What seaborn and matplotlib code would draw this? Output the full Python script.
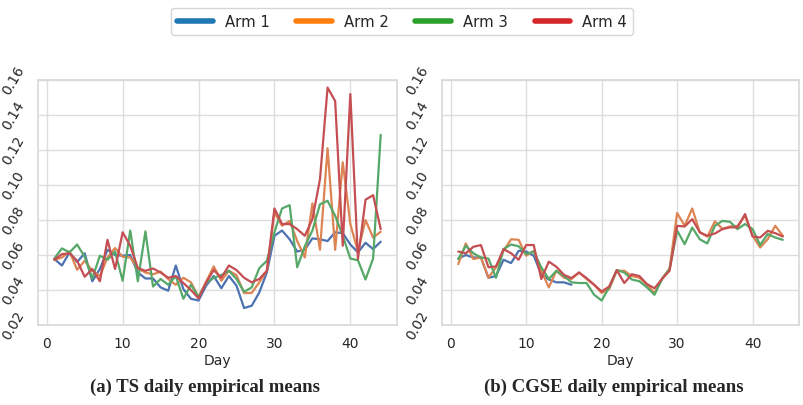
import numpy as np
import pandas as pd
import matplotlib
matplotlib.use("Agg")
import matplotlib.pyplot as plt
import seaborn as sns
from matplotlib.lines import Line2D

# Daily empirical means
days = list(range(1, 45))
arms = ["Arm 1", "Arm 2", "Arm 3", "Arm 4"]

ts_arm1 = [0.0577, 0.054, 0.0615, 0.056, 0.061, 0.045, 0.052, 0.063, 0.060, 0.0596,
           0.060, 0.050, 0.0466, 0.0466, 0.0415, 0.0396, 0.054, 0.0405, 0.035, 0.034,
           0.0425, 0.048, 0.041, 0.048, 0.0425, 0.0297, 0.031, 0.0386, 0.050, 0.071,
           0.074, 0.069, 0.062, 0.063, 0.0695, 0.069, 0.068, 0.073, 0.0725, 0.066,
           0.0615, 0.067, 0.0634, 0.0676]
ts_arm2 = [0.0573, 0.0586, 0.062, 0.0516, 0.0567, 0.051, 0.048, 0.0586, 0.064, 0.059,
           0.0586, 0.0523, 0.050, 0.049, 0.0505, 0.0463, 0.043, 0.047, 0.0444, 0.036,
           0.0447, 0.0535, 0.0453, 0.051, 0.0485, 0.0383, 0.0383, 0.0444, 0.051, 0.0843,
           0.0767, 0.0795, 0.068, 0.0586, 0.0895, 0.063, 0.121, 0.063, 0.113, 0.0777,
           0.062, 0.080, 0.070, 0.0733]
ts_arm3 = [0.058, 0.0638, 0.0615, 0.066, 0.059, 0.0466, 0.0596, 0.0573, 0.062, 0.0453,
           0.074, 0.045, 0.0735, 0.042, 0.0463, 0.043, 0.048, 0.035, 0.043, 0.036,
           0.044, 0.047, 0.0485, 0.051, 0.0463, 0.039, 0.0415, 0.0525, 0.0567, 0.073,
           0.0866, 0.0885, 0.053, 0.065, 0.074, 0.089, 0.091, 0.0824, 0.071, 0.058,
           0.057, 0.046, 0.058, 0.1287]
ts_arm4 = [0.0573, 0.0605, 0.061, 0.0567, 0.0476, 0.052, 0.045, 0.0687, 0.052, 0.073,
           0.0653, 0.0525, 0.051, 0.0523, 0.050, 0.047, 0.048, 0.044, 0.040, 0.0352,
           0.0444, 0.0514, 0.047, 0.054, 0.0514, 0.047, 0.0444, 0.0463, 0.051, 0.0866,
           0.0777, 0.0777, 0.0748, 0.071, 0.0805, 0.1033, 0.1557, 0.148, 0.0653, 0.152,
           0.0577, 0.0916, 0.0942, 0.0748]

# CGSE: arm 1 is only observed for the first 16 days
cgse_arm1 = [0.058, 0.060, 0.0586, 0.0586, 0.047, 0.048, 0.0573, 0.0554, 0.0624, 0.062,
             0.0596, 0.049, 0.046, 0.0444, 0.0444, 0.043]
cgse_arm2 = [0.0548, 0.0666, 0.0577, 0.0586, 0.047, 0.053, 0.0624, 0.069, 0.0687, 0.0596,
             0.0624, 0.051, 0.0415, 0.051, 0.047, 0.0463, 0.050, 0.0463, 0.043, 0.0383,
             0.0405, 0.051, 0.051, 0.048, 0.047, 0.043, 0.0383, 0.0466, 0.0523, 0.084,
             0.0767, 0.0866, 0.073, 0.0705, 0.0792, 0.075, 0.0763, 0.0767, 0.0824, 0.071,
             0.0643, 0.069, 0.0767, 0.071]
cgse_arm3 = [0.0577, 0.0653, 0.061, 0.0586, 0.058, 0.047, 0.0634, 0.066, 0.065, 0.0605,
             0.062, 0.053, 0.0463, 0.051, 0.048, 0.0444, 0.044, 0.044, 0.0373, 0.034,
             0.0415, 0.0514, 0.050, 0.046, 0.045, 0.0415, 0.0373, 0.0463, 0.052, 0.074,
             0.0662, 0.0757, 0.069, 0.0666, 0.0767, 0.0795, 0.079, 0.0748, 0.0777, 0.0748,
             0.0657, 0.072, 0.070, 0.0687]
cgse_arm4 = [0.062, 0.061, 0.0647, 0.0657, 0.053, 0.0535, 0.0634, 0.061, 0.0573, 0.0657,
             0.0657, 0.0463, 0.0562, 0.0533, 0.0487, 0.0468, 0.050, 0.0468, 0.043, 0.0392,
             0.042, 0.0514, 0.044, 0.049, 0.048, 0.0434, 0.041, 0.0463, 0.051, 0.0767,
             0.0763, 0.0805, 0.073, 0.071, 0.0723, 0.0748, 0.0758, 0.0758, 0.0834, 0.0706,
             0.070, 0.0738, 0.0725, 0.0706]

line_colors = sns.color_palette("deep", 4)
legend_colors = ["#1f77b4", "#ff7f0e", "#2ca02c", "#d62728"]


def to_long(series_list):
    rows = []
    for arm, vals in zip(arms, series_list):
        for d, v in zip(days, vals):
            rows.append({"Day": d, "mean": v, "Arm": arm})
    return pd.DataFrame(rows)


ts_df = to_long([ts_arm1, ts_arm2, ts_arm3, ts_arm4])
cgse_df = to_long([cgse_arm1, cgse_arm2, cgse_arm3, cgse_arm4])

sns.set_theme(style="whitegrid", rc={"grid.color": "#dedede", "axes.edgecolor": "#d9d9d9"})
plt.rcParams["font.family"] = ["DejaVu Sans"]

fig = plt.figure(figsize=(8.04, 4.06), dpi=100)
ax1 = fig.add_axes([0.0473, 0.197, 0.4465, 0.6034])
ax2 = fig.add_axes([0.5498, 0.197, 0.444, 0.6034])

for ax, df in [(ax1, ts_df), (ax2, cgse_df)]:
    sns.lineplot(data=df, x="Day", y="mean", hue="Arm", palette=dict(zip(arms, line_colors)),
                 ax=ax, legend=False, linewidth=1.6)
    ax.set_ylim(0.02, 0.16)
    ax.set_yticks(np.arange(0.02, 0.161, 0.02))
    ax.set_xticks([0, 10, 20, 30, 40])
    ax.set_ylabel("")
    ax.set_xlabel("Day", fontsize=10, labelpad=2)
    ax.tick_params(axis="both", labelsize=10, pad=2)
    for lab in ax.get_yticklabels():
        lab.set_rotation(60)
        lab.set_va("center")

handles = [Line2D([0], [0], color=c, lw=4) for c in legend_colors]
fig.legend(handles, arms, loc="upper center", bbox_to_anchor=(0.5, 0.995), ncol=4,
           fontsize=10.7, handlelength=2.4, columnspacing=1.8, frameon=True,
           edgecolor="#cccccc", fancybox=True)

fig.text(0.255, 0.045, "(a) TS daily empirical means", ha="center", va="center",
         fontsize=13.5, fontweight="bold", family="Liberation Serif")
fig.text(0.764, 0.045, "(b) CGSE daily empirical means", ha="center", va="center",
         fontsize=13.5, fontweight="bold", family="Liberation Serif")

fig.savefig("out.png", dpi=100)
